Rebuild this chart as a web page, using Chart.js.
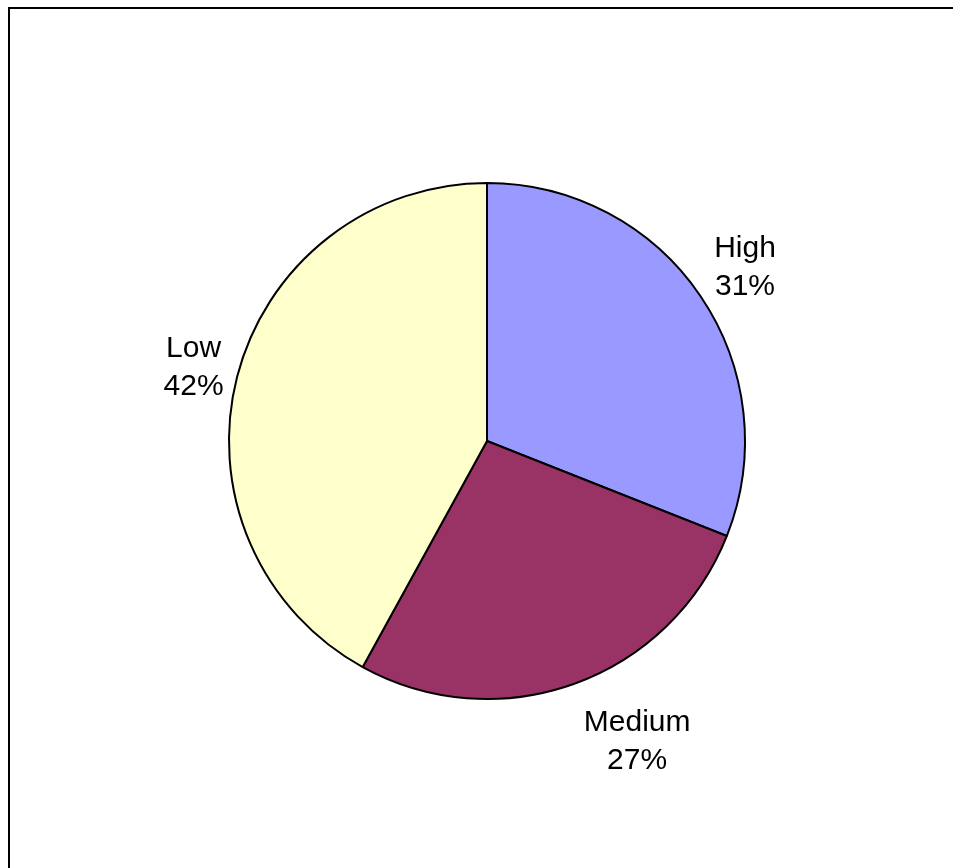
<!DOCTYPE html>
<html>
<head>
<meta charset="utf-8">
<script src="https://cdn.jsdelivr.net/npm/chart.js@4.4.1/dist/chart.umd.min.js"></script>
<style>
  html, body { margin: 0; padding: 0; background: #ffffff; }
  #wrap { width: 953px; height: 868px; position: relative; }
  canvas { display: block; }
</style>
</head>
<body>
<div id="wrap"><canvas id="c" width="953" height="868"></canvas></div>
<script>
const categories = ["High", "Medium", "Low"];
const percentages = [31, 27, 42];
const sliceColors = ["#9999FF", "#993366", "#FFFFCC"];

const framePlugin = {
  id: 'frame',
  beforeDraw(chart) {
    const ctx = chart.ctx;
    ctx.save();
    ctx.fillStyle = '#ffffff';
    ctx.fillRect(0, 0, chart.width, chart.height);
    ctx.strokeStyle = '#000000';
    ctx.lineWidth = 2;
    ctx.beginPath();
    ctx.moveTo(9, chart.height);
    ctx.lineTo(9, 8);
    ctx.lineTo(chart.width, 8);
    ctx.stroke();
    ctx.restore();
  }
};

const pieLabelPlugin = {
  id: 'pieLabels',
  afterDatasetsDraw(chart, args, opts) {
    const ctx = chart.ctx;
    const meta = chart.getDatasetMeta(0);
    const place = opts.placement;
    ctx.save();
    ctx.font = '30px "Liberation Sans", Arial, sans-serif';
    ctx.fillStyle = '#000000';
    ctx.textAlign = 'center';
    ctx.textBaseline = 'alphabetic';
    const capH = 21.5, lineGap = 38;
    meta.data.forEach((arc, i) => {
      const p = arc.getProps(['x', 'y', 'startAngle', 'endAngle', 'outerRadius'], true);
      const mid = (p.startAngle + p.endAngle) / 2 + place[i].shift * Math.PI / 180;
      const R = p.outerRadius * place[i].factor;
      const cx = p.x + Math.cos(mid) * R;
      const cy = p.y + Math.sin(mid) * R;
      const b1 = cy + (capH - lineGap) / 2;
      ctx.fillText(categories[i], cx, b1);
      ctx.fillText(percentages[i] + '%', cx, b1 + lineGap);
    });
    ctx.restore();
  }
};

new Chart(document.getElementById('c'), {
  type: 'pie',
  data: {
    labels: categories,
    datasets: [{
      data: percentages,
      backgroundColor: sliceColors,
      borderColor: '#000000',
      borderWidth: 2,
      borderAlign: 'center'
    }]
  },
  options: {
    responsive: false,
    animation: false,
    events: [],
    layout: { padding: { left: 228, right: 207, top: 182, bottom: 168 } },
    plugins: {
      legend: { display: false },
      tooltip: { enabled: false },
      title: { display: false },
      pieLabels: {
        placement: [
          { factor: 1.209, shift: 0 },
          { factor: 1.295, shift: -6.9 },
          { factor: 1.174, shift: 0 }
        ]
      }
    }
  },
  plugins: [framePlugin, pieLabelPlugin]
});
</script>
</body>
</html>
